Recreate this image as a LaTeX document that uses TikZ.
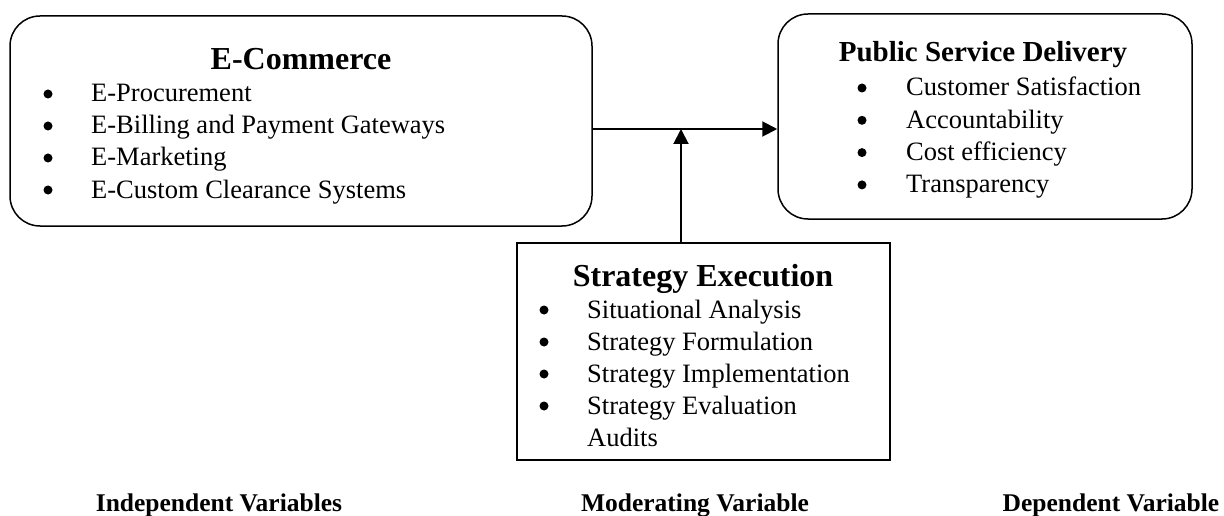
\documentclass[tikz,border=0pt]{standalone}
\usepackage{fontspec}
\setmainfont{Liberation Serif}
\usetikzlibrary{arrows.meta,positioning}
\tikzset{
    % Arrow style
    pil/.style={
           -{Triangle[length=15pt,width=15pt]},
           line width=2pt,},
    % Box styles
    roundbox/.style={draw, line width=1.5pt, rounded corners=30pt},
    sqbox/.style={draw, line width=1.5pt},
    % Text styles
    boxtitle/.style={font=\bfseries\fontsize{32}{38}\selectfont, anchor=base, inner sep=0pt},
    itemtext/.style={font=\fontsize{26.5}{32}\selectfont, anchor=base west, inner sep=0pt},
    varlabel/.style={font=\bfseries\fontsize{25.5}{30}\selectfont, anchor=base, inner sep=0pt},
    dot/.style={circle, fill, inner sep=0pt, minimum size=9pt},
}

\begin{document}
\begin{tikzpicture}[x=1pt,y=-1pt]
\useasboundingbox (0,0) rectangle (1224,516);

%Boxes
\node[roundbox, minimum width=582pt, minimum height=210pt](ecom) at (301,121){};
\node[roundbox, minimum width=414pt, minimum height=205pt](psd) at (985,116.5){};
\node[sqbox, minimum width=373pt, minimum height=217pt](strat) at (703.5,351.5){};

%Titles
\node[boxtitle](ecomtitle) at (301,70){E-Commerce};
\node[boxtitle, font=\bfseries\fontsize{29}{35}\selectfont](psdtitle) at (983,62){Public Service Delivery};
\node[boxtitle](strattitle) at (703,286){Strategy Execution};

%Items
\foreach \txt [count=\i] in {E-Procurement, E-Billing and Payment Gateways, E-Marketing, E-Custom Clearance Systems}{
  \node[dot](ecomdot\i) at (48,{62+32*\i}){};
  \node[itemtext](ecomitem\i) at (91,{70+32*\i}){\txt};
}
\foreach \txt [count=\i] in {Customer Satisfaction, Accountability, Cost efficiency, Transparency}{
  \node[dot](psddot\i) at (862,{55.7+32.3*\i}){};
  \node[itemtext](psditem\i) at (906,{63.7+32.3*\i}){\txt};
}
\foreach \txt [count=\i] in {Situational Analysis, Strategy Formulation, Strategy Implementation, Strategy Evaluation}{
  \node[dot](stratdot\i) at (544,{278+32*\i}){};
  \node[itemtext](stratitem\i) at (587,{286+32*\i}){\txt};
}
\node[itemtext](stratitem5) at (587,446){Audits};

%Arrows
\coordinate (join) at (681,129);
\draw[pil] (ecom.east |- join) -- (psd.west |- join);
\draw[pil] (strat.north -| join) -- (join);

%Labels
\node[varlabel](indep) at (219,511){Independent Variables};
\node[varlabel](moder) at (695,511){Moderating Variable};
\node[varlabel](dep) at (1111,511){Dependent Variable};

\end{tikzpicture}
\end{document}
